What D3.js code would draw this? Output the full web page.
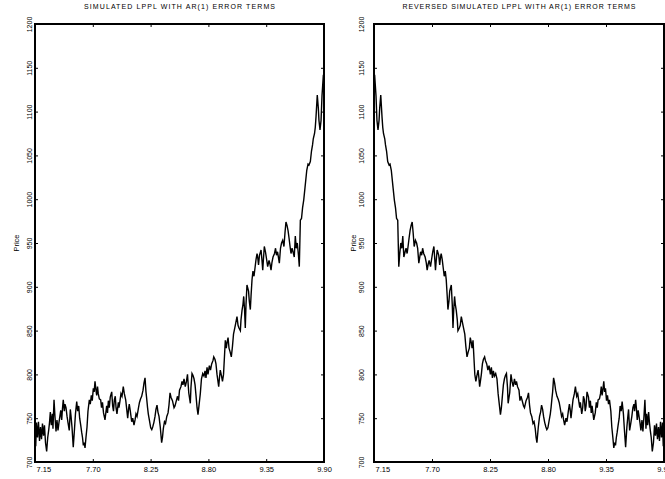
<!DOCTYPE html>
<html>
<head>
<meta charset="utf-8">
<script src="https://cdn.jsdelivr.net/npm/d3@7"></script>
<style>
  body { margin: 0; background: #fff; }
  svg { display: block; font-family: 'Liberation Sans', Arial, sans-serif; }
</style>
</head>
<body>
<div id="chart"></div>
<script>
// time (years)
const time = [
  7.150, 7.157, 7.164, 7.174, 7.183, 7.193, 7.202, 7.212, 7.221, 7.231,
  7.240, 7.250, 7.261, 7.271, 7.280, 7.288, 7.296, 7.305, 7.315, 7.321,
  7.331, 7.340, 7.350, 7.359, 7.369, 7.378, 7.395, 7.404, 7.412, 7.419,
  7.429, 7.435, 7.445, 7.455, 7.464, 7.476, 7.486, 7.493, 7.502, 7.514,
  7.526, 7.535, 7.547, 7.556, 7.566, 7.575, 7.585, 7.594, 7.602, 7.610,
  7.618, 7.626, 7.635, 7.645, 7.654, 7.667, 7.676, 7.686, 7.695, 7.705,
  7.713, 7.721, 7.730, 7.737, 7.745, 7.752, 7.762, 7.775, 7.783, 7.792,
  7.802, 7.809, 7.816, 7.826, 7.832, 7.840, 7.848, 7.857, 7.866, 7.880,
  7.889, 7.897, 7.905, 7.914, 7.921, 7.930, 7.943, 7.949, 7.959, 7.968,
  7.978, 7.990, 8.000, 8.013, 8.023, 8.032, 8.040, 8.047, 8.057, 8.070,
  8.080, 8.092, 8.102, 8.111, 8.121, 8.135, 8.144, 8.154, 8.165, 8.178,
  8.187, 8.197, 8.206, 8.213, 8.221, 8.228, 8.238, 8.251, 8.261, 8.270,
  8.281, 8.292, 8.301, 8.311, 8.320, 8.330, 8.342, 8.355, 8.363, 8.371,
  8.382, 8.392, 8.404, 8.416, 8.425, 8.435, 8.444, 8.458, 8.473, 8.482,
  8.497, 8.506, 8.516, 8.525, 8.539, 8.549, 8.558, 8.568, 8.580, 8.591,
  8.601, 8.613, 8.628, 8.634, 8.644, 8.653, 8.663, 8.673, 8.682, 8.692,
  8.701, 8.711, 8.723, 8.734, 8.746, 8.758, 8.768, 8.777, 8.787, 8.796,
  8.809, 8.820, 8.831, 8.844, 8.851, 8.863, 8.872, 8.882, 8.898, 8.906,
  8.913, 8.925, 8.934, 8.944, 8.961, 8.970, 8.977, 8.987, 8.996, 9.006,
  9.018, 9.029, 9.039, 9.056, 9.072, 9.082, 9.091, 9.104, 9.110, 9.120,
  9.129, 9.136, 9.144, 9.151, 9.158, 9.167, 9.182, 9.189, 9.199, 9.206,
  9.215, 9.224, 9.234, 9.244, 9.253, 9.263, 9.269, 9.277, 9.286, 9.301,
  9.310, 9.317, 9.324, 9.332, 9.343, 9.353, 9.364, 9.377, 9.386, 9.396,
  9.405, 9.415, 9.429, 9.439, 9.448, 9.458, 9.475, 9.486, 9.496, 9.507,
  9.519, 9.529, 9.538, 9.548, 9.558, 9.567, 9.577, 9.586, 9.596, 9.605,
  9.617, 9.627, 9.636, 9.646, 9.657, 9.665, 9.675, 9.686, 9.696, 9.707,
  9.719, 9.736, 9.748, 9.757, 9.770, 9.781, 9.791, 9.798, 9.810, 9.817,
  9.824, 9.836, 9.846, 9.852, 9.862, 9.872, 9.881, 9.894, 9.900
]

const price = [
  738, 718, 745, 728, 746, 724, 740, 726, 744, 730,
  742, 722, 712, 728, 736, 745, 757, 742, 755, 738,
  771, 752, 735, 748, 736, 745, 759, 748, 762, 771,
  758, 766, 762, 752, 745, 736, 760, 752, 740, 717,
  738, 755, 769, 758, 764, 750, 742, 734, 728, 719,
  722, 716, 728, 740, 758, 771, 766, 776, 770, 784,
  780, 792, 782, 776, 786, 778, 772, 771, 762, 768,
  756, 752, 748, 758, 764, 756, 770, 762, 774, 780,
  764, 758, 771, 775, 762, 755, 768, 762, 770, 778,
  775, 786, 778, 771, 760, 750, 760, 766, 758, 746,
  750, 742, 748, 755, 752, 762, 768, 772, 775, 782,
  790, 796, 780, 772, 762, 755, 748, 739, 737, 740,
  745, 752, 760, 765, 757, 752, 740, 722, 728, 738,
  746, 744, 752, 756, 765, 779, 774, 770, 762, 764,
  771, 775, 770, 782, 786, 792, 788, 795, 786, 792,
  800, 779, 767, 785, 801, 799, 795, 788, 776, 762,
  754, 765, 778, 795, 801, 798, 804, 796, 808, 800,
  810, 805, 812, 816, 820, 817, 812, 800, 786, 797,
  805, 798, 792, 800, 839, 830, 836, 842, 830, 826,
  820, 832, 846, 856, 866, 856, 853, 850, 862, 873,
  880, 889, 874, 853, 880, 902, 895, 884, 874, 890,
  908, 918, 912, 922, 931, 938, 934, 925, 936, 942,
  930, 919, 932, 946, 940, 932, 923, 930, 926, 919,
  928, 934, 938, 944, 936, 940, 927, 944, 950, 953,
  946, 962, 974, 970, 964, 956, 946, 938, 944, 940,
  934, 958, 944, 950, 936, 923, 976, 978, 990, 999,
  1013, 1033, 1040, 1039, 1043, 1055, 1062, 1069, 1075, 1082,
  1094, 1119, 1104, 1090, 1079, 1090, 1118, 1142, 1128
]

const xTicks = [7.15, 7.70, 8.25, 8.80, 9.35, 9.90]
const yTicks = [700, 750, 800, 850, 900, 950, 1000, 1050, 1100, 1150, 1200]
const titles = [
  'SIMULATED LPPL WITH AR(1) ERROR TERMS',
  'REVERSED SIMULATED LPPL WITH AR(1) ERROR TERMS'
]

const W = 665, H = 479
const plotTop = 24, plotBottom = 462

const svg = d3.select('#chart').append('svg')
  .attr('width', W)
  .attr('height', H)

const original = time.map((t, i) => ({ t: t, p: price[i] }))
// reversed series: same prices run backwards in time
const reversed = time.map((t, i) => ({ t: 7.15 + 9.90 - t, p: price[i] })).reverse()

const panels = [
  { left: 35, right: 324, data: original, title: titles[0], titleW: 191, labOff: 3.5, priceX: 18.5 },
  { left: 374, right: 664, data: reversed, title: titles[1], titleW: 233, labOff: 10, priceX: 356 }
]

panels.forEach(function(p) {
  const x = d3.scaleLinear().domain([7.15, 9.90]).range([p.left, p.right])
  const y = d3.scaleLinear().domain([700, 1200]).range([plotBottom, plotTop])
  const g = svg.append('g')

  // title
  g.append('text')
    .attr('x', (p.left + p.right) / 2)
    .attr('y', 9)
    .attr('text-anchor', 'middle')
    .attr('font-size', 7)
    .attr('textLength', p.titleW)
    .attr('lengthAdjust', 'spacing')
    .text(p.title)

  // price line
  const line = d3.line()
    .x(d => x(d.t))
    .y(d => y(d.p))

  g.append('path')
    .datum(p.data)
    .attr('d', line)
    .attr('fill', 'none')
    .attr('stroke', '#000')
    .attr('stroke-width', 1.4)
    .attr('stroke-linejoin', 'miter')

  // axes, ticks pointing inward
  const xb = g.append('g')
    .attr('transform', `translate(0,${plotBottom})`)
    .call(d3.axisBottom(x).tickValues(xTicks).tickSizeInner(-3).tickSizeOuter(0)
      .tickPadding(4.5).tickFormat(d3.format('.2f')))
  xb.selectAll('text')
    .attr('font-size', 7.5)
    .attr('fill', '#000')
  // first label sits inside the frame
  xb.selectAll('.tick text').filter((d, i) => i === 0)
    .attr('text-anchor', 'start')
    .attr('x', 1)

  g.append('g')
    .attr('transform', `translate(0,${plotTop})`)
    .call(d3.axisTop(x).tickValues(xTicks).tickSizeInner(-3).tickSizeOuter(0).tickFormat(''))

  const yl = g.append('g')
    .attr('transform', `translate(${p.left},0)`)
    .call(d3.axisLeft(y).tickValues(yTicks).tickSizeInner(-3).tickSizeOuter(0).tickFormat(d3.format('d')))
  yl.selectAll('text')
    .attr('transform', 'rotate(-90)')
    .attr('x', 0)
    .attr('y', -p.labOff)
    .attr('dy', 0)
    .attr('text-anchor', 'middle')
    .attr('font-size', 7)
    .attr('fill', '#000')

  g.append('g')
    .attr('transform', `translate(${p.right},0)`)
    .call(d3.axisRight(y).tickValues(yTicks).tickSizeInner(-3).tickSizeOuter(0).tickFormat(''))

  g.selectAll('.domain').remove()
  g.selectAll('.tick line').attr('stroke', '#000').attr('stroke-width', 1)

  // frame
  g.append('rect')
    .attr('x', p.left)
    .attr('y', plotTop)
    .attr('width', p.right - p.left)
    .attr('height', plotBottom - plotTop)
    .attr('fill', 'none')
    .attr('stroke', '#000')
    .attr('stroke-width', 2)

  // y label
  g.append('text')
    .attr('transform', `translate(${p.priceX},${(plotTop + plotBottom) / 2}) rotate(-90)`)
    .attr('text-anchor', 'middle')
    .attr('font-size', 7.5)
    .text('Price')
})
</script>
</body>
</html>
